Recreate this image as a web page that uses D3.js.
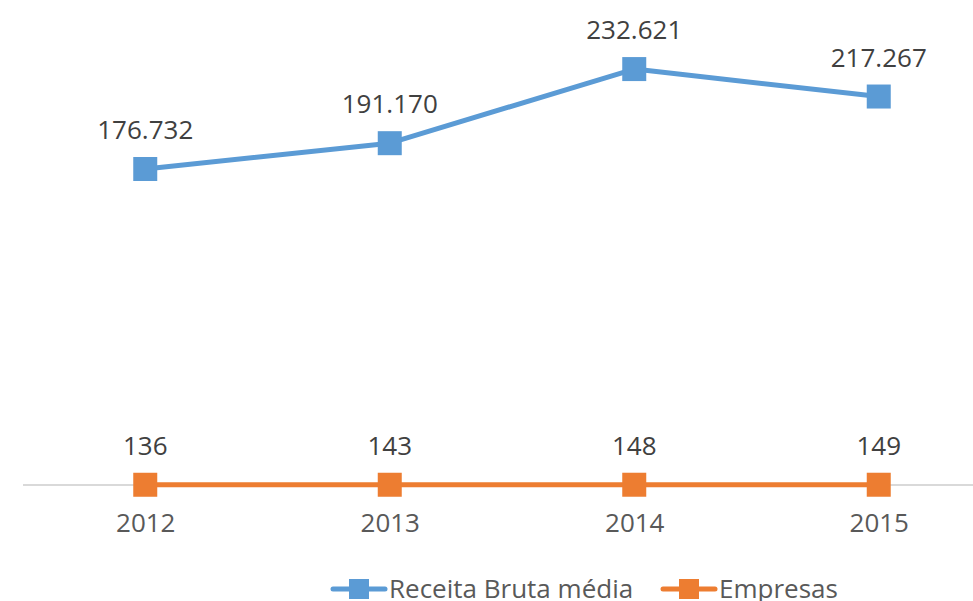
<!DOCTYPE html>
<html>
<head>
<meta charset="utf-8">
<script src="https://cdn.jsdelivr.net/npm/d3@7"></script>
<style>
  body { margin: 0; background: #fff; }
  svg { display: block; font-family: "Open Sans", "Noto Sans", sans-serif; }
</style>
</head>
<body>
<svg id="chart" width="973" height="601"></svg>
<script>
var years = ["2012", "2013", "2014", "2015"];
var receita = [176732, 191170, 232621, 217267];
var empresas = [136, 143, 148, 149];
var seriesNames = ["Receita Bruta média", "Empresas"];
var seriesColors = ["#5b9bd5", "#ed7d31"];

var svg = d3.select("#chart");
var margin = {left: 23, right: -28, top: 38, bottom: 116};
var width = 973, height = 601;

var xScale = d3.scalePoint()
    .domain(years)
    .range([margin.left, width - margin.right])
    .padding(0.5);

var yScale = d3.scaleLinear()
    .domain([0, 250000])
    .range([height - margin.bottom, margin.top]);

// pt-BR number format: 176.732
var fmt = d3.formatLocale({decimal: ",", thousands: ".", grouping: [3], currency: ["R$", ""]}).format(",d");

// baseline
svg.append("line")
    .attr("x1", margin.left)
    .attr("x2", width)
    .attr("y1", yScale(0))
    .attr("y2", yScale(0))
    .attr("stroke", "#d9d9d9")
    .attr("stroke-width", 2);

var xAxis = d3.axisBottom(xScale).tickSize(0).tickPadding(29);
var gx = svg.append("g")
    .attr("transform", "translate(0," + yScale(0) + ")")
    .call(xAxis);
gx.select(".domain").remove();
gx.selectAll("text")
    .attr("font-size", 26)
    .attr("font-family", "Open Sans, sans-serif")
    .attr("fill", "#595959");

var line = d3.line()
    .x(function(d, i) { return xScale(years[i]); })
    .y(function(d) { return yScale(d); });

[receita, empresas].forEach(function(values, s) {
    var color = seriesColors[s];
    svg.append("path")
        .datum(values)
        .attr("d", line)
        .attr("fill", "none")
        .attr("stroke", color)
        .attr("stroke-width", 5)
        .attr("stroke-linejoin", "round");

    svg.selectAll(".m" + s)
        .data(values)
        .enter()
        .append("rect")
        .attr("x", function(d, i) { return xScale(years[i]) - 12; })
        .attr("y", function(d) { return yScale(d) - 12; })
        .attr("width", 24)
        .attr("height", 24)
        .attr("fill", color);

    svg.selectAll(".l" + s)
        .data(values)
        .enter()
        .append("text")
        .attr("x", function(d, i) { return xScale(years[i]); })
        .attr("y", function(d) { return yScale(d) - 30; })
        .attr("text-anchor", "middle")
        .attr("font-size", 26)
        .attr("fill", "#404040")
        .text(function(d) { return fmt(d); });
});

// legend
var legendX = [333, 663];
seriesNames.forEach(function(name, s) {
    var g = svg.append("g").attr("transform", "translate(" + legendX[s] + ",589)");
    g.append("line")
        .attr("x1", 0).attr("x2", 52)
        .attr("y1", 0).attr("y2", 0)
        .attr("stroke", seriesColors[s])
        .attr("stroke-width", 5)
        .attr("stroke-linecap", "round");
    g.append("rect")
        .attr("x", 16).attr("y", -10)
        .attr("width", 20).attr("height", 20)
        .attr("fill", seriesColors[s]);
    g.append("text")
        .attr("x", 56)
        .attr("y", 9)
        .attr("font-size", 26)
        .attr("fill", "#595959")
        .text(name);
});
</script>
</body>
</html>
